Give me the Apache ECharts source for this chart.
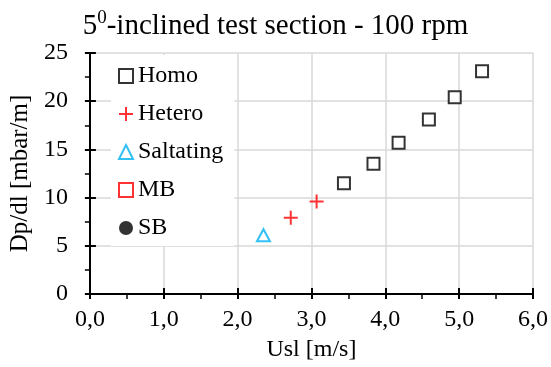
<!DOCTYPE html>
<html>
<head>
<meta charset="utf-8">
<script src="https://cdn.jsdelivr.net/npm/echarts@6/dist/echarts.min.js"></script>
<style>
  html, body { margin: 0; padding: 0; background: #fff; }
  #chart { width: 551px; height: 367px; }
</style>
</head>
<body>
<div id="chart"></div>
<script>
// Pressure gradient vs superficial liquid velocity, per flow regime
const homoUsl = [3.44, 3.84, 4.18, 4.59, 4.94, 5.31];
const homoDp = [11.5, 13.5, 15.7, 18.1, 20.4, 23.1];
const heteroUsl = [2.72, 3.07];
const heteroDp = [7.9, 9.6];
const saltUsl = [2.35];
const saltDp = [6.1];
const mbUsl = [];
const mbDp = [];
const sbUsl = [];
const sbDp = [];
const regimes = ['Homo', 'Hetero', 'Saltating', 'MB', 'SB'];

const FONT = '"Liberation Serif", "Times New Roman", serif';
const pairs = (xs, ys) => xs.map((x, i) => [x, ys[i]]);
const plusPath = 'path://M6,0L8,0L8,6L14,6L14,8L8,8L8,14L6,14L6,8L0,8L0,6L6,6Z';

const gridColor = '#d9d9d9';

function baseAxis(extra) {
  return Object.assign({
    type: 'value',
    axisLine: { show: true, lineStyle: { color: '#000', width: 2 } },
    axisTick: { show: true, inside: false, length: 5, lineStyle: { color: '#000', width: 2 } },
    minorTick: { show: true, splitNumber: 2, length: 5, lineStyle: { color: '#000', width: 1.5 } },
    splitLine: { show: true, lineStyle: { color: gridColor, width: 1.5 } },
    axisLabel: { color: '#000', fontFamily: FONT, fontSize: 24 },
    nameTextStyle: { color: '#000', fontFamily: FONT, fontSize: 24 }
  }, extra);
}

// Overlay axis drawing the inner half of the major ticks
function innerTicks(extra) {
  return Object.assign({
    type: 'value',
    axisLine: { show: false },
    axisTick: { show: true, inside: true, length: 6, lineStyle: { color: '#000', width: 2 } },
    splitLine: { show: false },
    axisLabel: { show: false }
  }, extra);
}

const chart = echarts.init(document.getElementById('chart'));
chart.setOption({
  backgroundColor: '#fff',
  animation: false,
  title: {
    text: '{n|5}{s|0}{n|-inclined test section - 100 rpm}',
    left: 'center',
    top: 4,
    textStyle: {
      rich: {
        n: { fontFamily: FONT, fontSize: 29, fontWeight: 'normal', color: '#000', lineHeight: 32, verticalAlign: 'bottom' },
        s: { fontFamily: FONT, fontSize: 19, fontWeight: 'normal', color: '#000', lineHeight: 32, verticalAlign: 'top' }
      }
    }
  },
  grid: { left: 85, right: 17, top: 53, bottom: 71, containLabel: false },
  legend: {
    orient: 'vertical',
    left: 111,
    top: 55,
    data: regimes,
    backgroundColor: '#fff',
    padding: [9, 11, 6, 7],
    itemWidth: 14,
    itemHeight: 14,
    itemGap: 14,
    textStyle: { fontFamily: FONT, fontSize: 24, color: '#000' }
  },
  xAxis: [
    baseAxis({
      min: 0, max: 6, interval: 1,
      name: 'Usl [m/s]', nameLocation: 'middle', nameGap: 44,
      axisLabel: { color: '#000', fontFamily: FONT, fontSize: 24, margin: 14,
        formatter: v => v.toFixed(1).replace('.', ',') }
    }),
    innerTicks({ min: 0, max: 6, interval: 1, position: 'bottom' })
  ],
  yAxis: [
    baseAxis({
      min: 0, max: 25, interval: 5,
      name: 'Dp/dl [mbar/m]', nameLocation: 'middle', nameGap: 50,
      nameTextStyle: { color: '#000', fontFamily: FONT, fontSize: 25 },
      axisLabel: { color: '#000', fontFamily: FONT, fontSize: 24, margin: 22 }
    }),
    innerTicks({ min: 0, max: 25, interval: 5, position: 'left' })
  ],
  series: [
    {
      name: 'Homo', type: 'scatter', data: pairs(homoUsl, homoDp),
      symbol: 'rect', symbolSize: 12,
      itemStyle: { color: '#fff', borderColor: '#000', borderWidth: 2 }
    },
    {
      name: 'Hetero', type: 'scatter', data: pairs(heteroUsl, heteroDp),
      symbol: plusPath, symbolSize: 14,
      itemStyle: { color: '#ff0000' }
    },
    {
      name: 'Saltating', type: 'scatter', data: pairs(saltUsl, saltDp),
      symbol: 'triangle', symbolSize: [13, 12],
      itemStyle: { color: '#fff', borderColor: '#00b0f0', borderWidth: 2 }
    },
    {
      name: 'MB', type: 'scatter', data: pairs(mbUsl, mbDp),
      symbol: 'rect', symbolSize: 12,
      itemStyle: { color: '#fff', borderColor: '#ff0000', borderWidth: 2 }
    },
    {
      name: 'SB', type: 'scatter', data: pairs(sbUsl, sbDp),
      symbol: 'circle', symbolSize: 14,
      itemStyle: { color: '#000' }
    }
  ]
});
</script>
</body>
</html>
